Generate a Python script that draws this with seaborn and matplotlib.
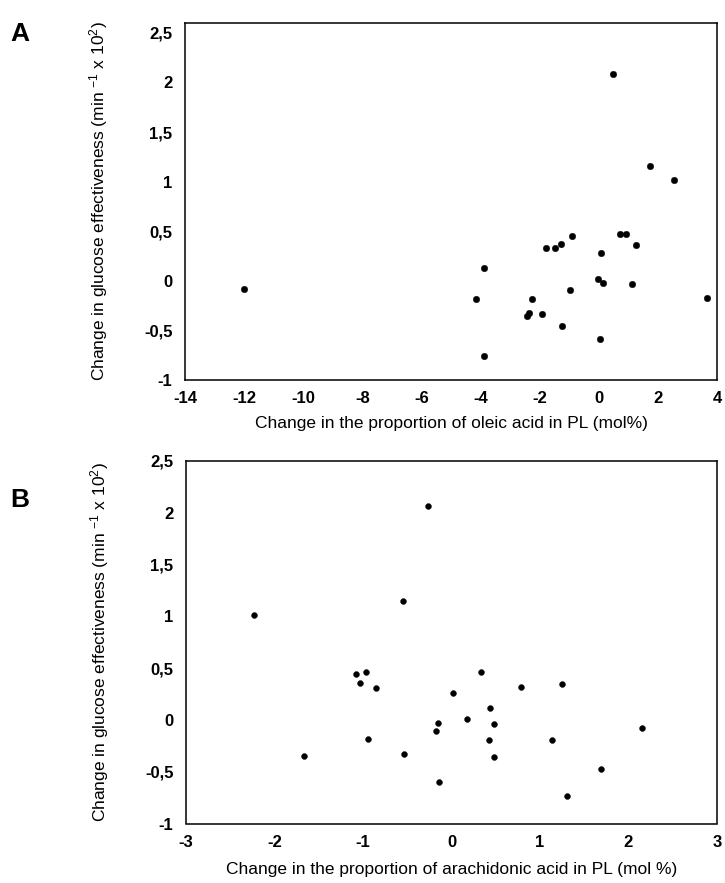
import numpy as np
import pandas as pd
import matplotlib
matplotlib.use("Agg")
import matplotlib.pyplot as plt
import seaborn as sns

# Panel A: change in oleic acid (mol%) vs change in glucose effectiveness
oleic_x = [-12.0, 0.49, 1.73, 2.55, 0.72, 0.92, 1.26, -0.90, -1.27, -1.49,
           -1.78, 0.07, -3.90, -0.02, 0.14, 1.13, -0.99, -4.16, -2.27, 3.66,
           -1.91, -2.35, -2.44, -1.25, 0.04, -3.87]
oleic_y = [-0.08, 2.09, 1.16, 1.02, 0.47, 0.47, 0.36, 0.45, 0.37, 0.335,
           0.33, 0.28, 0.13, 0.016, -0.017, -0.03, -0.095, -0.185, -0.185, -0.17,
           -0.33, -0.32, -0.35, -0.46, -0.59, -0.76]

# Panel B: change in arachidonic acid (mol %) vs change in glucose effectiveness
arach_x = [-0.26, -0.55, -2.23, -1.08, -0.97, -1.03, -0.85, -0.155, -0.17, -0.94,
           -1.67, -0.54, -0.14, 0.33, 0.02, 0.78, 1.25, 0.44, 0.17, 0.48,
           0.42, 1.13, 2.15, 0.48, 1.69, 1.30]
arach_y = [2.07, 1.15, 1.01, 0.44, 0.46, 0.36, 0.31, -0.03, -0.105, -0.185,
           -0.345, -0.33, -0.60, 0.46, 0.26, 0.32, 0.345, 0.115, 0.007, -0.04,
           -0.19, -0.19, -0.077, -0.36, -0.47, -0.73]

y_ticks = [-1, -0.5, 0, 0.5, 1, 1.5, 2, 2.5]
y_ticklabels = ["-1", "-0,5", "0", "0,5", "1", "1,5", "2", "2,5"]
xa_ticks = [-14, -12, -10, -8, -6, -4, -2, 0, 2, 4]
xb_ticks = [-3, -2, -1, 0, 1, 2, 3]

df_a = pd.DataFrame({"x": oleic_x, "y": oleic_y})
df_b = pd.DataFrame({"x": arach_x, "y": arach_y})

sns.set_style("white")
plt.rcParams["font.family"] = ["Liberation Sans", "DejaVu Sans"]
plt.rcParams["mathtext.fontset"] = "custom"
plt.rcParams["mathtext.rm"] = "Liberation Sans"
plt.rcParams["mathtext.it"] = "Liberation Sans:italic"
plt.rcParams["text.color"] = "black"
plt.rcParams["axes.labelcolor"] = "black"
plt.rcParams["xtick.color"] = "black"
plt.rcParams["ytick.color"] = "black"

W, H = 725, 883
fig = plt.figure(figsize=(W / 100, H / 100), dpi=100)


def px_axes(left, top, right, bottom):
    return fig.add_axes([left / W, 1 - bottom / H, (right - left) / W, (bottom - top) / H])


ax_a = px_axes(185, 23, 717, 380)
ax_b = px_axes(186, 461, 717, 823.5)

ylabel = "Change in glucose effectiveness (min $^{-1}$ x 10$^{2}$)"

for ax, df, xt, xlim, ylim, xlabel, size, lpad in [
    (ax_a, df_a, xa_ticks, (-14, 4), (-1, 2.6),
     "Change in the proportion of oleic acid in PL (mol%)", 22, 7),
    (ax_b, df_b, xb_ticks, (-3, 3), (-1, 2.5),
     "Change in the proportion of arachidonic acid in PL (mol %)", 18, 9),
]:
    sns.scatterplot(data=df, x="x", y="y", ax=ax, color="black", s=size,
                    edgecolor="black", linewidth=0.3)
    ax.set_xlim(*xlim)
    ax.set_ylim(*ylim)
    ax.set_xticks(xt)
    ax.set_xticklabels([str(v) for v in xt], fontweight="bold", fontsize=12)
    ax.set_yticks(y_ticks)
    ax.set_yticklabels(y_ticklabels, fontweight="bold", fontsize=12)
    ax.tick_params(axis="both", length=0)
    ax.tick_params(axis="y", pad=9)
    ax.tick_params(axis="x", pad=8)
    for sp in ax.spines.values():
        sp.set_visible(True)
        sp.set_color("black")
        sp.set_linewidth(1.1)
    ax.set_xlabel(xlabel, fontsize=12.5, labelpad=lpad)
    ax.set_ylabel(ylabel, fontsize=12.5)
    ax.yaxis.set_label_coords((110 - 185) / 532, 0.5)

fig.text(10 / W, 1 - 34 / H, "A", fontsize=19, fontweight="bold", va="center", ha="left")
fig.text(10 / W, 1 - 500 / H, "B", fontsize=19, fontweight="bold", va="center", ha="left")

fig.savefig("out.png", dpi=100)
